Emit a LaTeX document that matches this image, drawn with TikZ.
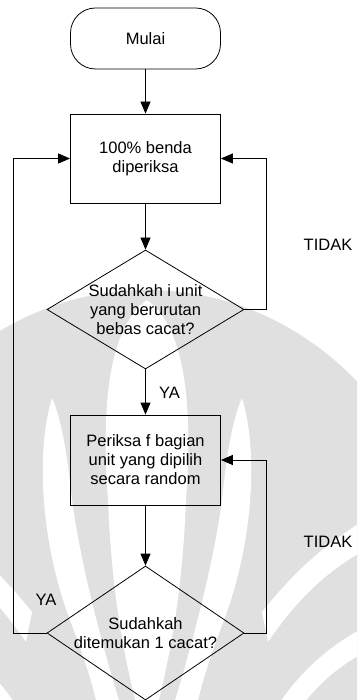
\documentclass[tikz,border=0pt]{standalone}
\usepackage{fontspec}
\setmainfont{Liberation Sans}
\usetikzlibrary{shapes.geometric,arrows.meta}

\definecolor{wmgray}{RGB}{224,224,224}

\tikzset{
  txt/.style={font=\fontsize{16.5}{19}\selectfont, align=center, inner sep=0pt},
  terminal/.style={draw, line width=0.8pt, rectangle, rounded corners=25pt,
    minimum width=150pt, minimum height=61pt, txt},
  process/.style={draw, line width=0.8pt, rectangle,
    minimum width=150pt, minimum height=89pt, txt},
  decision/.style={draw, line width=0.8pt, diamond, inner sep=0pt,
    minimum width=197pt},
  flow/.style={line width=0.8pt, -{Triangle[length=12pt,width=10pt]}},
  lbl/.style={font=\fontsize{16.5}{19}\selectfont, inner sep=0pt}
}

% white cuts of one half of the watermark (right half; mirrored for the left)
\newcommand\wmhalfcuts{%
  \fill[white] (242,398) .. controls (258,450) and (254,540) .. (224,620)
    .. controls (209,660) and (199,690) .. (194,720) -- (169,720)
    .. controls (194,640) and (214,560) .. (222,500)
    .. controls (226,460) and (232,420) .. (242,398) -- cycle;
  \fill[white] (262,612) .. controls (290,577) and (320,547) .. (365,520)
    -- (365,550) .. controls (325,572) and (295,602) .. (268,642) -- cycle;
  \fill[white] (278,705) .. controls (300,672) and (330,645) .. (365,627)
    -- (365,652) .. controls (335,668) and (312,690) .. (298,712) -- cycle;
}

\begin{document}
\begin{tikzpicture}[x=1pt, y=-1pt]
  \useasboundingbox (0,0) rectangle (357,700);
  \fill[white] (0,0) rectangle (357,700);

  % faint emblem in the background
  \begin{scope}
    \clip (0,0) rectangle (357,700);
    \fill[wmgray] (147,610) ellipse [x radius=300, y radius=320];
    \wmhalfcuts
    \begin{scope}[xshift=294pt, xscale=-1]
      \wmhalfcuts
    \end{scope}
    \fill[white] (147,300) .. controls (105,330) and (102,420) .. (108,500)
      .. controls (112,600) and (125,660) .. (140,720) -- (154,720)
      .. controls (169,660) and (182,600) .. (186,500)
      .. controls (192,420) and (189,330) .. (147,300) -- cycle;
  \end{scope}

  % flowchart nodes
  \node[terminal] (start) at (145.5,38.5) {Mulai};
  \node[process] (inspect) at (145.5,158.5) {100\% benda\\diperiksa};
  \node[decision, minimum height=119pt] (clear) at (145.5,309.5) {};
  \node[txt] at (clear) {Sudahkah i unit\\yang berurutan\\bebas cacat?};
  \node[process, minimum height=90pt] (sample) at (145.5,460) {Periksa f bagian\\unit yang dipilih\\secara random};
  \node[decision, minimum height=134pt] (defect) at (145.5,633) {};
  \node[txt] at (defect) {Sudahkah\\ditemukan 1 cacat?};

  % connectors
  \draw[flow] (start) -- (inspect);
  \draw[flow] (inspect) -- (clear);
  \draw[flow] (clear) -- (sample);
  \draw[flow] (sample) -- (defect);
  \draw[flow] (clear.east) -- ++(22,0) |- (inspect.east);
  \draw[flow] (defect.east) -- ++(22,0) |- (sample.east);
  \draw[flow] (defect.west) -- ++(-33,0) |- (inspect.west);

  % branch labels
  \node[lbl] (tidak1) at (328,245) {TIDAK};
  \node[lbl] (ya1) at (169.5,393) {YA};
  \node[lbl] (tidak2) at (328,542) {TIDAK};
  \node[lbl] (ya2) at (46,600) {YA};
\end{tikzpicture}
\end{document}
